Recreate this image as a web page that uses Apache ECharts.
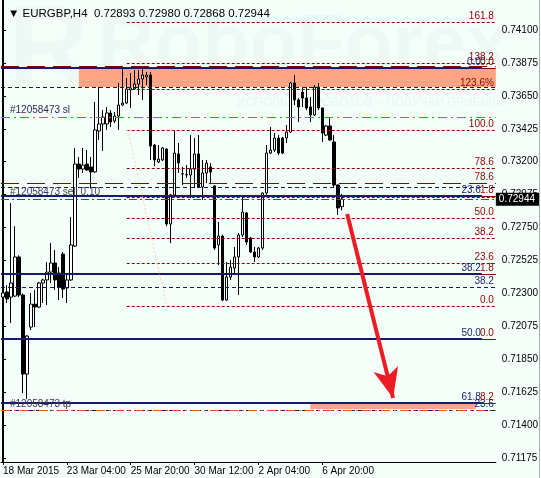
<!DOCTYPE html>
<html><head><meta charset="utf-8">
<script src="https://cdn.jsdelivr.net/npm/echarts@6/dist/echarts.min.js"></script>
<style>html,body{margin:0;padding:0;background:#F5FFFA}#c{width:541px;height:478px}</style>
</head><body><div id="c"></div>
<script>
const symbolName = 'EURGBP,H4';
// [open, close, low, high]
const ohlc = [
[0.72275,0.72303,0.72221,0.72480],[0.72310,0.72262,0.72234,0.72357],[0.72275,0.72371,0.72098,0.72918],
[0.72282,0.72549,0.72275,0.72759],[0.72549,0.72289,0.72275,0.72560],[0.72289,0.71749,0.71619,0.72300],
[0.71749,0.72009,0.71578,0.72015],[0.72070,0.72227,0.72050,0.72303],[0.72227,0.72207,0.72070,0.72324],
[0.72207,0.72371,0.72200,0.72380],[0.72371,0.72392,0.72234,0.72400],[0.72392,0.72446,0.72221,0.72514],
[0.72446,0.72508,0.72371,0.72644],[0.72508,0.72392,0.72324,0.72597],[0.72439,0.72344,0.72255,0.72480],
[0.72569,0.72330,0.72268,0.72583],[0.72337,0.72392,0.72234,0.72439],[0.72392,0.72631,0.72385,0.72822],
[0.72624,0.73184,0.72617,0.73294],[0.73184,0.73150,0.73089,0.73232],[0.73150,0.73177,0.73123,0.73294],
[0.73184,0.73143,0.73140,0.73280],[0.73164,0.73130,0.73020,0.73232],[0.73130,0.73417,0.73125,0.73608],
[0.73410,0.73458,0.73348,0.73710],[0.73458,0.73505,0.73273,0.73553],[0.73458,0.73533,0.73417,0.73574],
[0.73533,0.73471,0.73437,0.73553],[0.73478,0.73512,0.73464,0.73540],[0.73512,0.73587,0.73417,0.73738],
[0.73587,0.73601,0.73580,0.73847],[0.73601,0.73697,0.73595,0.73772],[0.73690,0.73704,0.73567,0.73806],
[0.73697,0.73731,0.73690,0.73827],[0.73731,0.73765,0.73656,0.73827],[0.73765,0.73792,0.73622,0.73847],
[0.73779,0.73792,0.73724,0.73813],[0.73792,0.73307,0.73212,0.73813],[0.73314,0.73212,0.73171,0.73320],
[0.73198,0.73218,0.73191,0.73314],[0.73212,0.73294,0.73205,0.73300],[0.73287,0.72774,0.72759,0.73290],
[0.72774,0.72973,0.72644,0.72980],[0.72973,0.73259,0.72959,0.73410],[0.73253,0.73191,0.73123,0.73328],
[0.73118,0.73116,0.73041,0.73164],[0.73109,0.73112,0.73089,0.73177],[0.73109,0.73150,0.72952,0.73382],
[0.73150,0.73253,0.73020,0.73362],[0.73253,0.73027,0.73020,0.73382],[0.73027,0.73123,0.72938,0.73212],
[0.73123,0.73191,0.73054,0.73212],[0.73164,0.73130,0.73054,0.73191],[0.73034,0.72610,0.72597,0.73040],
[0.72631,0.72692,0.72494,0.72788],[0.72692,0.72255,0.72248,0.72700],[0.72255,0.72412,0.72250,0.72514],
[0.72412,0.72480,0.72392,0.72528],[0.72474,0.72549,0.72439,0.72617],[0.72549,0.72699,0.72289,0.72713],
[0.72699,0.72856,0.72685,0.72973],[0.72850,0.72651,0.72631,0.72856],[0.72679,0.72583,0.72576,0.72685],
[0.72583,0.72549,0.72514,0.72617],[0.72549,0.72610,0.72542,0.72617],[0.72610,0.72986,0.72597,0.72990],
[0.72986,0.73259,0.72973,0.73314],[0.73259,0.73280,0.73252,0.73437],[0.73280,0.73362,0.73266,0.73396],
[0.73362,0.73259,0.73246,0.73382],[0.73362,0.73259,0.73252,0.73370],[0.73362,0.73403,0.73328,0.73451],
[0.73403,0.73738,0.73396,0.73745],[0.73738,0.73622,0.73587,0.73792],[0.73622,0.73574,0.73471,0.73635],
[0.73676,0.73635,0.73574,0.73710],[0.73635,0.73567,0.73553,0.73710],[0.73574,0.73519,0.73471,0.73642],
[0.73519,0.73710,0.73512,0.73724],[0.73710,0.73567,0.73553,0.73738],[0.73567,0.73396,0.73335,0.73570],
[0.73382,0.73444,0.73375,0.73451],[0.73444,0.73348,0.73345,0.73505],[0.73335,0.73041,0.73027,0.73382],
[0.73041,0.72884,0.72836,0.73045],[0.72893,0.72944,0.72868,0.72980]
];
const slotCount = 124;
const xTickIndex = [0,16,32,48,64,80];
const xTickText = ['18 Mar 2015','23 Mar 04:00','25 Mar 20:00','30 Mar 12:00','2 Apr 04:00','6 Apr 20:00'];
const yTicks = [0.71175,0.71400,0.71625,0.71850,0.72075,0.72300,0.72525,0.72750,0.72975,0.73200,0.73425,0.73650,0.73875,0.74100];
const yMin = 0.71148, yMax = 0.74305;

const fibAStart = 31;
const fibALevels = [0.74155,0.73874,0.73697,0.73417,0.73157,0.72959,0.72815,0.72679,0.72508,0.72214];
const fibALabels = ['161.8','138.2','123.6%','100.0','78.6','','50.0','38.2','23.6','0.0'];
const fibCLevels = [0.73840,0.72966,0.72433,0.71988,0.71551];
const fibCLabels = ['0.0','23.6','38.2','50.0','61.8'];
const fibDLabels = ['0.0','1.8','1.8','0.0','8.2'];
const fibELevels = [0.73710,0.73027,0.72344,0.71503];
const fibELabels = ['','','38.2','23.6'];
const fibFLevels = [0.73854,0.73054];
const fibFLabels = ['','78.6'];
const orderOpen = 0.72945, orderSL = 0.73505, orderTP = 0.71503;
const orderId = '#12058473';
const zones = [[19,123.5,0.73840,0.73710],[77,118.5,0.71551,0.71510]];
const trendA = [[31.25,0.73417],[41,0.72214]];
const arrowPts = [[86.25,0.72843],[97.75,0.71585]];

const categories = Array.from({length: slotCount}, (_, i) => String(i));
const xL = -0.5, xR = 123.5, xC = 120;
const DR = '#8B0000', NV = '#191970', OR = '#F05020', GR = '#008000';
const lines = [];
function hline(x1, x2, y, color, width, dash, text, pos, tcolor, dist) {
  lines.push([{coord:[x1,y], lineStyle:{color, width, type: dash || 'solid', opacity:1},
    label: text ? {show:true, formatter:text, position: pos || 'insideEndTop', color: tcolor || color,
      fontSize:10, fontFamily:'Liberation Sans', distance: dist || [2,1]} : {show:false}},
    {coord:[x2,y]}]);
}
fibALevels.forEach((v,i) => hline(fibAStart, xR, v, DR, 1, [3,2], fibALabels[i]));
fibELevels.forEach((v,i) => hline(xL, xR, v, NV, 1, [4,3], fibELabels[i]));
fibFLevels.forEach((v,i) => hline(xL, xR, v, DR, 1, [18,8], fibFLabels[i]));
fibCLevels.forEach((v,i) => hline(xC, xR, v, DR, 1, 'solid', fibDLabels[i]));
fibCLevels.forEach((v,i) => hline(xL, xC, v, NV, 2, 'solid', fibCLabels[i], 'insideEndTop', NV, [1,1]));
hline(xL, xR, orderOpen, GR, 1, [8,3,2,3], orderId + ' sell 0.10', 'insideStartTop', '#3a3a6a', [9,2]);
hline(xL, xR, orderSL, OR, 1, [9,4,2,4], orderId + ' sl', 'insideStartTop', '#2a2a5a', [9,2]);
hline(xL, xR, orderTP, OR, 1, [9,4,2,4], orderId + ' tp', 'insideStartTop', '#3a3a4a', [9,1]);
lines.push([{coord:trendA[0], lineStyle:{color:'#FFD0A8', width:1, type:[2,2]}, label:{show:false}}, {coord:trendA[1]}]);
lines.push([{coord:arrowPts[0], symbol:'none', lineStyle:{color:'#EE1C25', width:4, type:'solid'}, label:{show:false}},
            {coord:arrowPts[1], symbol:'arrow', symbolSize:[19,30]}]);

const last = ohlc[ohlc.length-1];
// current price tag at the right axis
lines.push([{coord:[xR - 0.05, last[1]], lineStyle:{width:1, color:'rgba(0,0,0,0)'},
  label:{show:true, position:'end', distance:0, formatter: last[1].toFixed(5), backgroundColor:'#000', color:'#fff',
    padding:[2,4,1,3], fontSize:10, fontFamily:'Liberation Sans'}},
  {coord:[xR, last[1]]}]);

const titleText = '▼ ' + symbolName + '  ' + [last[0], last[3], last[2], last[1]].map(v => v.toFixed(5)).join(' ');
const isTick = (i) => xTickIndex.indexOf(i) >= 0;

const chart = echarts.init(document.getElementById('c'), null, {renderer:'canvas'});
chart.setOption({
  animation: false,
  backgroundColor: '#F5FFFA',
  textStyle: {fontFamily: 'Liberation Sans'},
  title: {text: titleText, left: 3, top: 3, textStyle: {fontSize: 11.5, fontWeight: 'normal', color: '#000', fontFamily: 'Liberation Sans'}},
  graphic: [
    {type:'text', left: 8, top: -4, z: -10, silent: true, style:{text:'R', font:'bold 112px Liberation Sans', fill:'rgba(160,180,185,0.08)'}},
    {type:'text', left: 98, top: 8, z: -10, silent: true, style:{text:'RoboForex', font:'bold 78px Liberation Sans', fill:'rgba(160,180,185,0.08)'}},
    {type:'text', left: 237, top: 97, z: -10, silent: true, style:{text:'ИСПОЛЬЗУЙ РОБОТОВ – ПОЛУЧАЙ ПРИБЫЛЬ', font:'12px Liberation Sans', fill:'rgba(160,180,185,0.14)'}},
    {type:'line', z: 10, silent: true, shape:{x1:539.5, y1:0, x2:539.5, y2:478}, style:{stroke:'#b0b0b0', lineWidth:1}}
  ],
  grid: {left: 1, right: 44, top: 0, bottom: 16, containLabel: false},
  xAxis: [
    {type:'category', data: categories, boundaryGap: true,
     axisLine:{show:true, lineStyle:{color:'#000', width:1}},
     axisTick:{show:true, alignWithLabel:true, interval:(i) => isTick(i), length:3, lineStyle:{color:'#000'}},
     axisLabel:{show:true, interval:(i) => isTick(i), formatter:(v, i) => { const k = xTickIndex.indexOf(i); return k >= 0 ? xTickText[k] : ''; },
       align:'left', margin:4, fontSize:10, color:'#000', fontFamily:'Liberation Sans'},
     splitLine:{show:false}},
    {type:'value', min: xL, max: xR, show: false}
  ],
  yAxis: [
    {type:'value', position:'right', min: yMin, max: yMax, scale: true,
     axisLine:{show:true, lineStyle:{color:'#000', width:1}},
     axisTick:{show:true, customValues: yTicks, length:3, lineStyle:{color:'#000'}},
     axisLabel:{show:true, customValues: yTicks, formatter:(v) => v.toFixed(5), margin:6, fontSize:10, color:'#000', fontFamily:'Liberation Sans'},
     splitLine:{show:false}},
    {type:'value', position:'left', min: yMin, max: yMax, offset: -1,
     axisLine:{show:true, lineStyle:{color:'#000', width:1}},
     axisTick:{show:false}, axisLabel:{show:false}, splitLine:{show:false}}
  ],
  series: [
    {type:'line', xAxisIndex:1, yAxisIndex:0, z:1, data:[[-50, 0.5]], showSymbol:false, silent:true,
     markArea:{silent:true, itemStyle:{color:'#FFA584', opacity:1},
       data: zones.map(z => [{coord:[z[0], z[2]]}, {coord:[z[1], z[3]]}])}},
    {type:'candlestick', xAxisIndex:0, yAxisIndex:0, z:3, data: ohlc, barWidth: 3,
     itemStyle:{color:'#ffffff', color0:'#000000', borderColor:'#000000', borderColor0:'#000000', borderColorDoji:'#000000', borderWidth:1}},
    {type:'line', xAxisIndex:1, yAxisIndex:0, z:4, data:[[-50, 0.5]], showSymbol:false, silent:true,
     markLine:{symbol:'none', silent:true, animation:false, data: lines}}
  ]
});
</script></body></html>
